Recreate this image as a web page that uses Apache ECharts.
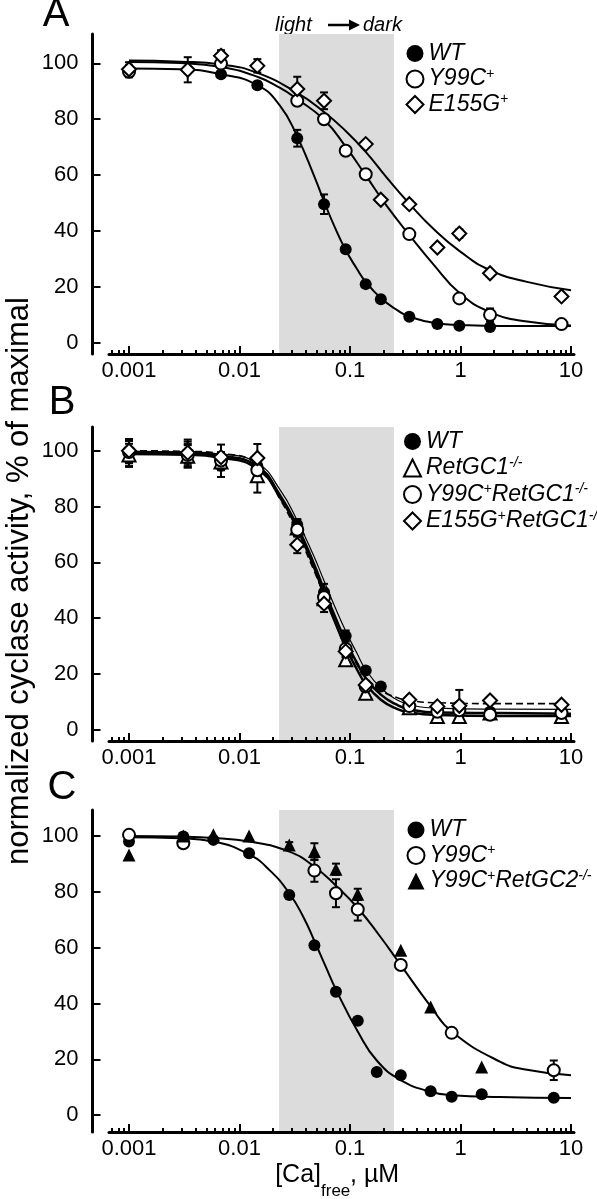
<!DOCTYPE html>
<html><head><meta charset="utf-8">
<script src="https://cdn.jsdelivr.net/npm/echarts@6/dist/echarts.min.js"></script>
<style>html,body{margin:0;padding:0;background:#fff}#c{width:597px;height:1199px}</style>
</head><body><div id="c"></div>
<script>
// ---------- tick values / labels ----------
const majorTicks = [0.001, 0.01, 0.1, 1, 10];
const majorTickLabels = ['0.001', '0.01', '0.1', '1', '10'];
const minorTicks = [0.0007,0.0008,0.0009,
  0.002,0.003,0.004,0.005,0.006,0.007,0.008,0.009,
  0.02,0.03,0.04,0.05,0.06,0.07,0.08,0.09,
  0.2,0.3,0.4,0.5,0.6,0.7,0.8,0.9,
  2,3,4,5,6,7,8,9];
const yTicks = [0, 20, 40, 60, 80, 100];
const shadeRange = [0.0228, 0.25];

// ---------- Panel A ----------
const legendA = ['WT', 'Y99C+', 'E155G+'];
const xA = [0.001, 0.0034, 0.0068, 0.0145, 0.0333, 0.0582, 0.0914, 0.1387, 0.19, 0.344, 0.617, 0.975, 1.85, 8.2];
const wtA    = [97.3, null, 96.1, 92.2, 73.2, 49.6, 33.5, 21.0, 15.6, 9.3, 6.7, 6.1, 5.7, null];
const wtAErr = [2, 0, 1, 1, 3, 3.5, 1, 0, 0, 0, 0, 0, 0, 0];
const y99cA    = [97.0, null, 99.9, null, 86.6, 80.0, 68.7, 60.3, null, 38.9, null, 15.9, 10.0, 6.7];
const y99cAErr = [2, 0, 1.5, 0, 1, 1, 1, 1, 0, 1, 0, 1, 2.3, 1];
const e155gA    = [97.9, 97.7, 102.7, 99.1, 90.8, 86.6, null, 71.1, 51.2, 49.6, 34.1, 39.1, 24.9, 16.6];
const e155gAErr = [2.5, 4.5, 2, 2.4, 4.4, 3, 0, 1, 1, 1, 1, 1.5, 1, 1];
const wtAFit = [[0.001,98.2],[0.0029,97.9],[0.0068,96.1],[0.0145,92.2],[0.0233,84.8],[0.0333,73.8],[0.0466,60.4],[0.0582,50.6],[0.0731,41.2],[0.0914,33.2],[0.115,26.6],[0.1387,21.8],[0.19,16.0],[0.265,11.8],[0.344,9.4],[0.617,7.0],[0.975,6.4],[2.27,6.0],[10,6.0]];
const y99cAFit = [[0.001,100.5],[0.0029,100.1],[0.0068,98.7],[0.0145,95.2],[0.0233,91.2],[0.0333,87.2],[0.0582,79.8],[0.0914,70.2],[0.1387,59.9],[0.215,49.0],[0.344,38.6],[0.568,28.1],[0.975,17.9],[1.85,11.0],[4,7.6],[10,6.2]];
const e155gAFit = [[0.001,101.0],[0.0029,100.6],[0.0068,99.6],[0.0145,96.6],[0.0333,89.4],[0.0582,82.6],[0.0914,75.8],[0.1387,68.3],[0.215,59.1],[0.344,49.8],[0.568,40.8],[0.975,32.9],[1.85,26.0],[4,21.8],[10,18.8]];

// ---------- Panel B ----------
const legendB = ['WT', 'RetGC1-/-', 'Y99C+RetGC1-/-', 'E155G+RetGC1-/-'];
const xB = [0.001, 0.0034, 0.0068, 0.0145, 0.0333, 0.0582, 0.0914, 0.1387, 0.19, 0.344, 0.617, 0.975, 1.85, 8.2];
const wtB    = [99.2, 99.0, 94.6, 94.5, 73.5, 49.3, 33.6, 21.3, 15.5, 8.5, 7.0, 8.6, 6.5, 6.0];
const wtBErr = [5, 5, 4, 3, 2, 3, 2, 1, 1, 1, 1, 1, 1, 1];
const ret1B    = [98.5, 98.0, 96.0, 91.0, 72.3, 47.0, 25.1, 13.1, null, 7.9, 4.8, 4.8, 6.0, 4.8];
const ret1BErr = [4, 4, 3, 6, 3, 3, 1, 1, 0, 1, 1, 1, 1, 1];
const y99cB    = [99.5, 98.5, 96.5, 93.0, 71.7, 47.5, 29.0, 15.5, null, 8.5, 6.5, 7.0, 5.4, 6.0];
const y99cBErr = [4, 4, 3, 4, 2, 2, 1, 1, 0, 1, 1, 2, 1, 1];
const e155gB    = [100.0, 99.3, 97.7, 97.4, 66.3, 45.2, 28.1, 16.1, null, 10.8, 8.4, 8.6, 10.5, 9.0];
const e155gBErr = [4, 4, 4.5, 5, 3, 3, 2, 1, 0, 1, 1, 5.7, 1, 1];
const wtBFit = [[0.001,99.5],[0.0032,99.2],[0.0068,98.2],[0.0145,94.4],[0.0233,84.0],[0.0333,72.9],[0.0466,60.0],[0.0582,50.2],[0.0731,40.6],[0.0914,31.8],[0.115,24.2],[0.1387,18.6],[0.19,12.6],[0.265,9.0],[0.344,7.4],[0.617,6.2],[2.27,6.0],[10,5.8]];
const ret1BFit = [[0.001,98.8],[0.0032,98.6],[0.0068,97.5],[0.0145,93.5],[0.0233,83.2],[0.0333,72.0],[0.0466,58.8],[0.0582,48.6],[0.0731,38.6],[0.0914,29.6],[0.115,21.8],[0.1387,16.4],[0.19,10.8],[0.265,7.5],[0.344,6.2],[0.617,5.3],[2.27,5.0],[10,5.0]];
const y99cBFit = [[0.001,99.8],[0.0032,99.6],[0.0068,98.8],[0.0145,95.5],[0.0233,86.0],[0.0333,75.0],[0.0466,62.6],[0.0582,53.4],[0.0731,44.0],[0.0914,35.4],[0.115,27.6],[0.1387,21.6],[0.19,15.0],[0.265,10.8],[0.344,9.0],[0.617,7.8],[2.27,7.4],[10,7.3]];
const e155gBFit = [[0.001,100.0],[0.0032,99.8],[0.0068,99.0],[0.0145,95.0],[0.0233,82.6],[0.0333,70.6],[0.0466,57.6],[0.0582,48.2],[0.0731,38.8],[0.0914,30.6],[0.115,23.6],[0.1387,19.0],[0.19,14.2],[0.265,11.6],[0.344,10.5],[0.617,9.7],[2.27,9.4],[10,9.4]];

// ---------- Panel C ----------
const legendC = ['WT', 'Y99C+', 'Y99C+RetGC2-/-'];
const xC = [0.001, 0.0031, 0.0058, 0.0122, 0.0282, 0.0476, 0.0746, 0.1175, 0.1746, 0.288, 0.537, 0.832, 1.555, 6.98];
const wtC    = [98.0, 99.8, 98.6, 93.8, 78.9, 60.9, 44.2, 33.8, 15.5, 14.3, 8.6, 6.6, 7.5, 6.3];
const wtCErr = [0, 0, 0, 0, 0, 0, 0, 0, 0, 0, 0, 0, 0, 0];
const y99cC    = [100.4, 97.4, null, null, null, 87.6, 79.5, 73.7, null, 53.8, null, 29.5, null, 16.1];
const y99cCErr = [0, 0, 0, 0, 0, 4, 5, 4, 0, 1, 0, 1, 0, 3.5];
const ret2C    = [93.2, 100.0, 100.4, 100.0, 96.8, 94.4, 88.1, 79.1, null, 59.1, 38.8, null, 17.3, null];
const ret2CErr = [0, 0, 0, 0, 1, 3, 2, 2, 0, 0, 0, 0, 0, 0];
const wtCFit = [[0.001,99.5],[0.0029,99.2],[0.0058,98.0],[0.0122,93.4],[0.0189,87.6],[0.0282,79.5],[0.0378,71.0],[0.0476,62.4],[0.06,53.4],[0.0746,45.0],[0.1175,30.0],[0.1746,19.6],[0.288,12.6],[0.537,8.4],[0.832,7.2],[2.27,6.5],[10,6.2]];
const y99cCFit = [[0.001,100.0],[0.0029,99.8],[0.0058,99.3],[0.0122,98.0],[0.0282,94.4],[0.0476,89.0],[0.0746,82.2],[0.1175,74.2],[0.1873,64.0],[0.283,54.2],[0.537,39.0],[0.832,30.0],[2.27,19.2],[4,16.3],[10,14.3]];

// ---------- layout / style ----------
const FONT = '"Liberation Sans", Arial, Helvetica, sans-serif';
const BLACK = '#000';
const X_MIN = 0.000659, X_MAX = 10.64;
const boxes = [
  {top: 34, height: 320, ymin: -4, ymax: 110.5, legendTop: 42, legendLeft: 405.5, legendGap: 2},
  {top: 427, height: 314, ymin: -4, ymax: 108.5, legendTop: 430, legendLeft: 403, legendGap: 3},
  {top: 810, height: 322, ymin: -6, ymax: 109.3, legendTop: 818.5, legendLeft: 406.5, legendGap: 2}
];
const SYM = {
  filledCircle: {symbol: 'circle', size: 12, fill: BLACK},
  openCircle: {symbol: 'circle', size: 12, fill: '#fff'},
  openDiamond: {symbol: 'diamond', size: 14, fill: '#fff'},
  openTriangle: {symbol: 'triangle', size: 13, fill: '#fff'},
  filledTriangle: {symbol: 'triangle', size: 13, fill: BLACK}
};

function toRich(label) {
  return label.split(/(\+|-\/-)/).filter(s => s.length).map(s =>
    (s === '+' || s === '-/-') ? '{s|' + s + '}' : '{i|' + s + '}').join('');
}
const richStyles = {
  i: {fontSize: 23, fontStyle: 'italic', fontFamily: FONT, color: BLACK, lineHeight: 24},
  s: {fontSize: 14, fontStyle: 'italic', fontFamily: FONT, color: BLACK, lineHeight: 14, verticalAlign: 'top'}
};

function pts(xs, ys) { return xs.map((x, k) => [x, ys[k]]).filter(p => p[1] != null); }

const grids = [], xAxes = [], yAxes = [], series = [], legends = [];
const legendText = {};

function fmtX(v) {
  const k = majorTicks.findIndex(t => Math.abs(Math.log10(t) - Math.log10(v)) < 0.01);
  return k >= 0 ? majorTickLabels[k] : '';
}

boxes.forEach((b, i) => {
  grids.push({left: 109, width: 465, top: b.top, height: b.height, containLabel: false});
  xAxes.push({type: 'log', logBase: 10, gridIndex: i, position: 'bottom', min: X_MIN, max: X_MAX, z: 10,
    axisLine: {show: true, onZero: false, lineStyle: {color: BLACK, width: 3}},
    axisTick: {show: true, inside: true, length: 8, customValues: majorTicks, lineStyle: {color: BLACK, width: 2}},
    axisLabel: {show: true, customValues: majorTicks, margin: 6, color: BLACK, fontSize: 22, fontFamily: FONT, formatter: fmtX},
    splitLine: {show: false}, minorTick: {show: false}});
  xAxes.push({type: 'log', logBase: 10, gridIndex: i, position: 'bottom', offset: 0, min: X_MIN, max: X_MAX, z: 10,
    axisLine: {show: false, onZero: false},
    axisTick: {show: true, inside: true, length: 4, customValues: minorTicks, lineStyle: {color: BLACK, width: 2}},
    axisLabel: {show: false}, splitLine: {show: false}});
  yAxes.push({type: 'value', gridIndex: i, min: b.ymin, max: b.ymax, offset: 16.5, z: 10,
    axisLine: {show: true, onZero: false, lineStyle: {color: BLACK, width: 3}},
    axisTick: {show: true, inside: true, length: 8, customValues: yTicks, lineStyle: {color: BLACK, width: 2}},
    axisLabel: {show: true, customValues: yTicks, margin: 14, color: BLACK, fontSize: 22, fontFamily: FONT},
    splitLine: {show: false}});
  // shaded light->dark band
  series.push({type: 'line', xAxisIndex: 2 * i, yAxisIndex: i, data: [], z: 1, silent: true,
    markArea: {silent: true, itemStyle: {color: '#dcdcdc'},
      data: [[{xAxis: shadeRange[0]}, {xAxis: shadeRange[1]}]]}});
});

function addCurve(gi, data, width, dashed) {
  series.push({type: 'line', xAxisIndex: 2 * gi, yAxisIndex: gi, data: data, showSymbol: false,
    smooth: 0.5, silent: true, z: 4,
    lineStyle: {color: BLACK, width: width, type: dashed ? [7, 4] : 'solid'}});
}
function addPoints(gi, name, label, xs, ys, errs, sym) {
  const id = 'P' + gi + ':' + name;
  legendText[id] = toRich(label);
  const errData = [];
  xs.forEach((x, k) => { if (ys[k] != null && errs[k] > 0) errData.push([x, ys[k] - errs[k], ys[k] + errs[k]]); });
  series.push({type: 'custom', xAxisIndex: 2 * gi, yAxisIndex: gi, data: errData, z: 5, silent: true,
    encode: {x: 0, y: [1, 2]},
    renderItem: function (params, api) {
      const lo = api.coord([api.value(0), api.value(1)]);
      const hi = api.coord([api.value(0), api.value(2)]);
      const w = 4, st = {stroke: BLACK, lineWidth: 2};
      return {type: 'group', children: [
        {type: 'line', shape: {x1: lo[0], y1: lo[1], x2: hi[0], y2: hi[1]}, style: st},
        {type: 'line', shape: {x1: lo[0] - w, y1: lo[1], x2: lo[0] + w, y2: lo[1]}, style: st},
        {type: 'line', shape: {x1: hi[0] - w, y1: hi[1], x2: hi[0] + w, y2: hi[1]}, style: st}
      ]};
    }});
  series.push({type: 'scatter', name: id, xAxisIndex: 2 * gi, yAxisIndex: gi, data: pts(xs, ys),
    symbol: sym.symbol, symbolSize: sym.size, z: 6, silent: true,
    itemStyle: {color: sym.fill, borderColor: BLACK, borderWidth: sym.fill === BLACK ? 0 : 2, opacity: 1}});
  return id;
}

// Panel A
addCurve(0, wtAFit, 2); addCurve(0, y99cAFit, 2); addCurve(0, e155gAFit, 2);
const legA = [
  addPoints(0, 'WT', legendA[0], xA, wtA, wtAErr, SYM.filledCircle),
  addPoints(0, 'Y99C', legendA[1], xA, y99cA, y99cAErr, SYM.openCircle),
  addPoints(0, 'E155G', legendA[2], xA, e155gA, e155gAErr, SYM.openDiamond)
];
// Panel B
addCurve(1, e155gBFit, 1.6, true); addCurve(1, y99cBFit, 1.2); addCurve(1, ret1BFit, 2.5); addCurve(1, wtBFit, 2.5);
const legB = [
  addPoints(1, 'WT', legendB[0], xB, wtB, wtBErr, SYM.filledCircle),
  addPoints(1, 'RetGC1', legendB[1], xB, ret1B, ret1BErr, SYM.openTriangle),
  addPoints(1, 'Y99C', legendB[2], xB, y99cB, y99cBErr, SYM.openCircle),
  addPoints(1, 'E155G', legendB[3], xB, e155gB, e155gBErr, SYM.openDiamond)
];
// Panel C
addCurve(2, wtCFit, 2); addCurve(2, y99cCFit, 2);
const legC = [
  addPoints(2, 'WT', legendC[0], xC, wtC, wtCErr, SYM.filledCircle),
  addPoints(2, 'Y99C', legendC[1], xC, y99cC, y99cCErr, SYM.openCircle),
  addPoints(2, 'RetGC2', legendC[2], xC, ret2C, ret2CErr, SYM.filledTriangle)
];

[legA, legB, legC].forEach((names, i) => {
  const b = boxes[i];
  legends.push({orient: 'vertical', left: b.legendLeft, top: b.legendTop, padding: 0,
    itemWidth: 17, itemHeight: 17, itemGap: b.legendGap, selectedMode: false, data: names,
    formatter: n => legendText[n],
    textStyle: {color: BLACK, fontSize: 23, fontStyle: 'italic', fontFamily: FONT, rich: richStyles}});
});

const txt = (x, y, text, size, extra) => Object.assign({type: 'text', x: x, y: y, silent: true,
  style: Object.assign({text: text, fontSize: size, fontFamily: FONT, fill: BLACK, align: 'center', verticalAlign: 'middle'}, extra || {})});

const graphic = [
  txt(56, 15, 'A', 40), txt(62, 403, 'B', 40), txt(62, 788, 'C', 40),
  Object.assign(txt(19, 581, 'normalized cyclase activity, % of maximal', 31), {rotation: Math.PI / 2}),
  txt(275, 25, 'light', 20, {align: 'left', fontStyle: 'italic'}),
  {type: 'line', silent: true, shape: {x1: 328, y1: 25, x2: 352, y2: 25}, style: {stroke: BLACK, lineWidth: 2.5}},
  {type: 'polygon', silent: true, shape: {points: [[349, 19.5], [360, 25], [349, 30.5]]}, style: {fill: BLACK}},
  txt(363, 25, 'dark', 20, {align: 'left', fontStyle: 'italic'}),
  txt(321, 1175, '[Ca]', 25, {align: 'right'}),
  txt(321, 1191, 'free', 17, {align: 'left'}),
  txt(350, 1175, ', µM', 25, {align: 'left'})
];

const chart = echarts.init(document.getElementById('c'));
chart.setOption({
  animation: false,
  backgroundColor: '#fff',
  grid: grids, xAxis: xAxes, yAxis: yAxes, series: series, legend: legends, graphic: graphic
});
</script></body></html>
